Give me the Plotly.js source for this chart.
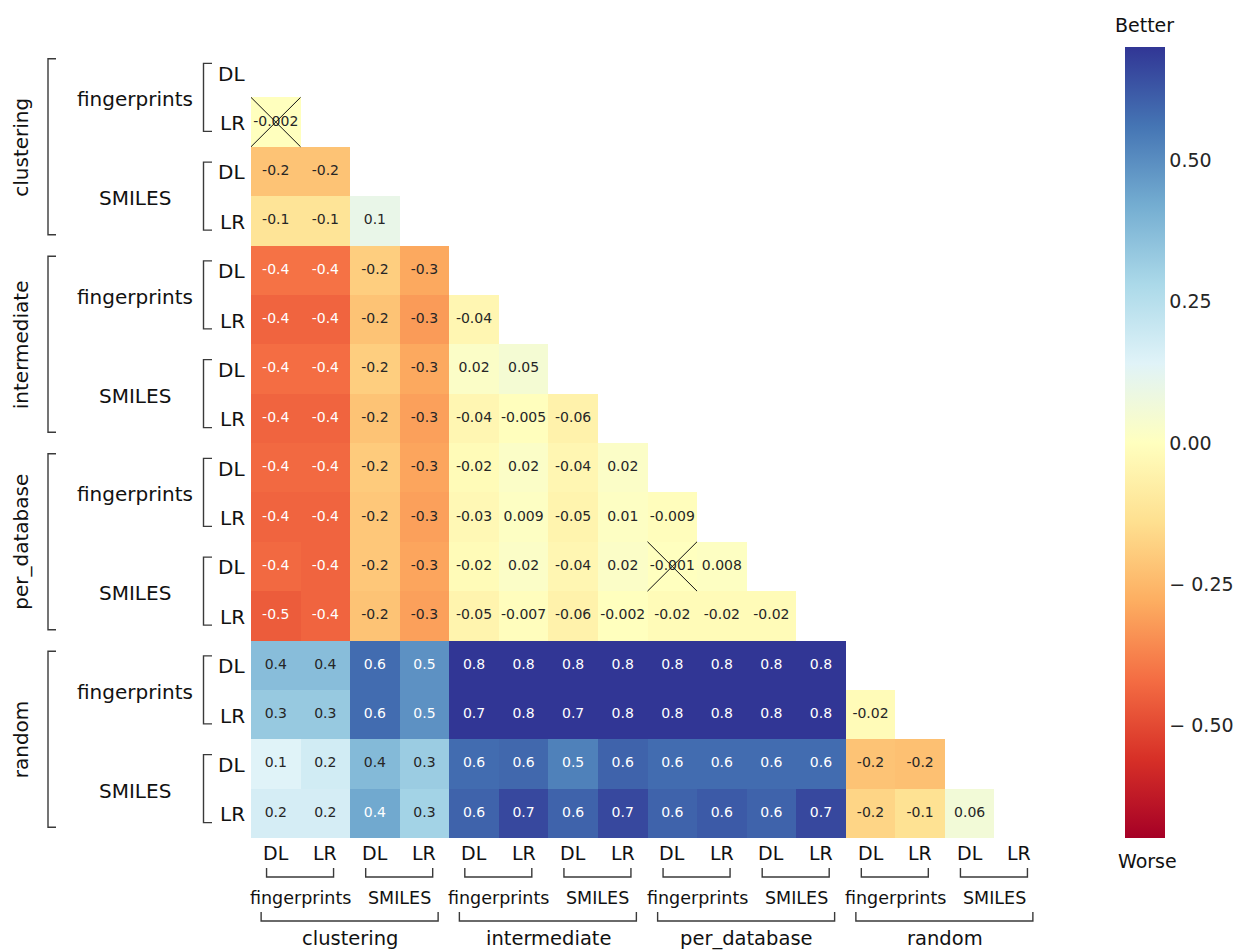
<!DOCTYPE html>
<html>
<head>
<meta charset="utf-8">
<script src="https://cdn.plot.ly/plotly-3.0.1.min.js"></script>
<style>
  html, body { margin: 0; padding: 0; background: #ffffff; }
  #chart { width: 1233px; height: 951px; }
</style>
</head>
<body>
<div id="chart"></div>
<script>
// Row / column hierarchy: split -> feature type -> model
const splits = ['clustering', 'intermediate', 'per_database', 'random'];
const features = ['fingerprints', 'SMILES'];
const models = ['DL', 'LR'];

// Lower-triangle differences, row i holds columns 0..i-1
const values = [
  [],
  [-0.002],
  [-0.22, -0.22],
  [-0.12, -0.12, 0.1],
  [-0.41, -0.41, -0.19, -0.29],
  [-0.44, -0.44, -0.22, -0.32, -0.04],
  [-0.42, -0.42, -0.19, -0.29, 0.02, 0.05],
  [-0.44, -0.44, -0.22, -0.31, -0.04, -0.005, -0.06],
  [-0.43, -0.43, -0.2, -0.3, -0.02, 0.02, -0.04, 0.02],
  [-0.44, -0.44, -0.21, -0.31, -0.03, 0.009, -0.05, 0.01, -0.009],
  [-0.43, -0.44, -0.21, -0.3, -0.02, 0.02, -0.04, 0.02, -0.001, 0.008],
  [-0.46, -0.44, -0.22, -0.31, -0.05, -0.007, -0.06, -0.002, -0.02, -0.02, -0.02],
  [0.37, 0.37, 0.58, 0.49, 0.78, 0.77, 0.78, 0.78, 0.79, 0.79, 0.78, 0.78],
  [0.33, 0.33, 0.58, 0.49, 0.72, 0.77, 0.73, 0.77, 0.78, 0.78, 0.78, 0.77, -0.02],
  [0.14, 0.18, 0.38, 0.32, 0.58, 0.59, 0.53, 0.6, 0.58, 0.58, 0.58, 0.58, -0.22, -0.23],
  [0.17, 0.17, 0.43, 0.3, 0.6, 0.66, 0.6, 0.66, 0.6, 0.62, 0.6, 0.66, -0.17, -0.13, 0.06]
];

// Cells struck through
const crossedCells = [[1, 0], [10, 8]];

// Colour range and diverging scale (RdYlBu)
const zRange = [-0.7, 0.7];
const rdylbu = ['#a50026', '#d73027', '#f46d43', '#fdae61', '#fee090', '#ffffbf',
                '#e0f3f8', '#abd9e9', '#74add1', '#4575b4', '#313695'];
const colorTicks = [-0.5, -0.25, 0, 0.25, 0.5];
const colorTickText = ['\u2212 0.50', '\u2212 0.25', '0.00', '0.25', '0.50'];

// ---- layout geometry (pixels) ----
const W = 1233, H = 951;
const M = { l: 251, r: 189, t: 48, b: 113 };
const PW = W - M.l - M.r, PH = H - M.t - M.b;
const n = splits.length * features.length * models.length;
const px2x = px => (px - M.l) / PW;
const py2y = py => (H - M.b - py) / PH;
const cellX = j => M.l + (j + 0.5) * PW / n;
const cellY = i => M.t + (i + 0.5) * PH / n;

const FONT = 'DejaVu Sans';

// ---- matrices ----
const z = [], txtX = [], txtY = [], txt = [], txtColor = [];
const colorscale = rdylbu.map((c, k) => [k / (rdylbu.length - 1), c]);

function hexRgb(h) {
  return [1, 3, 5].map(k => parseInt(h.slice(k, k + 2), 16));
}
function scaleColor(v) {
  let t = (v - zRange[0]) / (zRange[1] - zRange[0]);
  t = Math.max(0, Math.min(1, t));
  const pos = t * (rdylbu.length - 1);
  const k = Math.min(rdylbu.length - 2, Math.floor(pos));
  const f = pos - k;
  const a = hexRgb(rdylbu[k]), b = hexRgb(rdylbu[k + 1]);
  return a.map((c, m) => c + (b[m] - c) * f);
}
function luminance(rgb) {
  const lin = rgb.map(c => {
    c /= 255;
    return c <= 0.03928 ? c / 12.92 : Math.pow((c + 0.055) / 1.055, 2.4);
  });
  return 0.2126 * lin[0] + 0.7152 * lin[1] + 0.0722 * lin[2];
}
function fmt(v) {
  return Number(v.toPrecision(1)).toString();
}

for (let i = 0; i < n; i++) {
  const row = [];
  for (let j = 0; j < n; j++) {
    const v = j < values[i].length ? values[i][j] : null;
    row.push(v);
    if (v !== null) {
      txtX.push(j);
      txtY.push(i);
      txt.push(fmt(v));
      txtColor.push(luminance(scaleColor(v)) < 0.408 ? '#ffffff' : '#262626');
    }
  }
  z.push(row);
}

const idx = Array.from({ length: n }, (_, k) => k);

// cross lines over struck cells
const crossX = [], crossY = [];
crossedCells.forEach(([r, c]) => {
  crossX.push(c - 0.5, c + 0.5, null, c - 0.5, c + 0.5, null);
  crossY.push(r - 0.5, r + 0.5, null, r + 0.5, r - 0.5, null);
});

const traces = [
  {
    type: 'heatmap',
    z: z, x: idx, y: idx,
    zmin: zRange[0], zmax: zRange[1],
    colorscale: colorscale,
    hoverongaps: false,
    colorbar: {
      x: px2x(1125), xanchor: 'left', xpad: 0,
      y: py2y((M.t + H - M.b) / 2), yanchor: 'middle', ypad: 0,
      thickness: 40, thicknessmode: 'pixels',
      len: PH + 1, lenmode: 'pixels',
      outlinewidth: 0,
      tickvals: colorTicks, ticktext: colorTickText,
      ticks: '', ticklen: 0,
      tickfont: { family: FONT, size: 19, color: '#262626' }
    }
  },
  {
    type: 'scatter', mode: 'text',
    x: txtX, y: txtY, text: txt,
    textposition: 'middle center',
    textfont: { family: FONT, size: 14, color: txtColor },
    hoverinfo: 'skip', showlegend: false
  },
  {
    type: 'scatter', mode: 'lines',
    x: crossX, y: crossY,
    line: { color: '#111111', width: 1 },
    hoverinfo: 'skip', showlegend: false
  }
];

// ---- hierarchical labels and brackets ----
const annotations = [];
const shapes = [];
const bracketLine = { color: '#3a3a3a', width: 1.4 };

function path(points) {
  return 'M' + points.map(p => px2x(p[0]) + ',' + py2y(p[1])).join('L');
}

const perGroup = features.length * models.length;

// row and column model labels
for (let i = 0; i < n; i++) {
  annotations.push({
    xref: 'paper', yref: 'paper', x: px2x(247), y: py2y(cellY(i) + 1),
    xanchor: 'right', yanchor: 'middle', showarrow: false,
    text: models[i % models.length], font: { family: FONT, size: 20, color: '#111' }
  });
  annotations.push({
    xref: 'paper', yref: 'paper', x: px2x(cellX(i)), y: py2y(853),
    xanchor: 'center', yanchor: 'middle', showarrow: false,
    text: models[i % models.length], font: { family: FONT, size: 19, color: '#111' }
  });
}

// feature labels with small brackets
for (let k = 0; k < n / models.length; k++) {
  const a = k * models.length, b = a + models.length - 1;
  const yc = (cellY(a) + cellY(b)) / 2;
  const xc = (cellX(a) + cellX(b)) / 2;
  const name = features[k % features.length];
  annotations.push({
    xref: 'paper', yref: 'paper', x: px2x(135), y: py2y(yc + 2),
    xanchor: 'center', yanchor: 'middle', showarrow: false,
    text: name, font: { family: FONT, size: 20, color: '#111' }
  });
  annotations.push({
    xref: 'paper', yref: 'paper', x: px2x(xc), y: py2y(898),
    xanchor: 'center', yanchor: 'middle', showarrow: false,
    text: name, font: { family: FONT, size: 17.5, color: '#111' }
  });
  shapes.push({
    type: 'path', xref: 'paper', yref: 'paper', layer: 'above',
    path: path([[212, yc - 34], [203.5, yc - 34], [203.5, yc + 34], [212, yc + 34]]),
    line: bracketLine
  });
  shapes.push({
    type: 'path', xref: 'paper', yref: 'paper', layer: 'above',
    path: path([[xc - 34, 868], [xc - 34, 877], [xc + 33, 877], [xc + 33, 868]]),
    line: bracketLine
  });
}

// split labels with large brackets
splits.forEach((name, g) => {
  const a = g * perGroup, b = a + perGroup - 1;
  const yc = (cellY(a) + cellY(b)) / 2;
  const xc = (cellX(a) + cellX(b)) / 2;
  annotations.push({
    xref: 'paper', yref: 'paper', x: px2x(21), y: py2y(yc),
    xanchor: 'center', yanchor: 'middle', textangle: -90, showarrow: false,
    text: name, font: { family: FONT, size: 20, color: '#111' }
  });
  annotations.push({
    xref: 'paper', yref: 'paper', x: px2x(xc), y: py2y(938),
    xanchor: 'center', yanchor: 'middle', showarrow: false,
    text: name, font: { family: FONT, size: 19.5, color: '#111' }
  });
  shapes.push({
    type: 'path', xref: 'paper', yref: 'paper', layer: 'above',
    path: path([[56, yc - 88], [48, yc - 88], [48, yc + 88], [56, yc + 88]]),
    line: bracketLine
  });
  shapes.push({
    type: 'path', xref: 'paper', yref: 'paper', layer: 'above',
    path: path([[xc - 89, 912], [xc - 89, 921], [xc + 88, 921], [xc + 88, 912]]),
    line: bracketLine
  });
});

// colour bar end captions
annotations.push({
  xref: 'paper', yref: 'paper', x: px2x(1144), y: py2y(25),
  xanchor: 'center', yanchor: 'middle', showarrow: false,
  text: 'Better', font: { family: FONT, size: 19, color: '#111' }
});
annotations.push({
  xref: 'paper', yref: 'paper', x: px2x(1147), y: py2y(861),
  xanchor: 'center', yanchor: 'middle', showarrow: false,
  text: 'Worse', font: { family: FONT, size: 19, color: '#111' }
});

const axisBase = {
  showticklabels: false, showgrid: false, zeroline: false, showline: false,
  ticks: '', fixedrange: true
};

const layout = {
  width: W, height: H,
  margin: { l: M.l, r: M.r, t: M.t, b: M.b, pad: 0, autoexpand: false },
  paper_bgcolor: '#ffffff', plot_bgcolor: '#ffffff',
  font: { family: FONT, color: '#111' },
  showlegend: false,
  xaxis: Object.assign({ range: [-0.5, n - 0.5] }, axisBase),
  yaxis: Object.assign({ range: [n - 0.5, -0.5] }, axisBase),
  annotations: annotations,
  shapes: shapes
};

Plotly.newPlot('chart', traces, layout, { displayModeBar: false, staticPlot: true });
</script>
</body>
</html>
